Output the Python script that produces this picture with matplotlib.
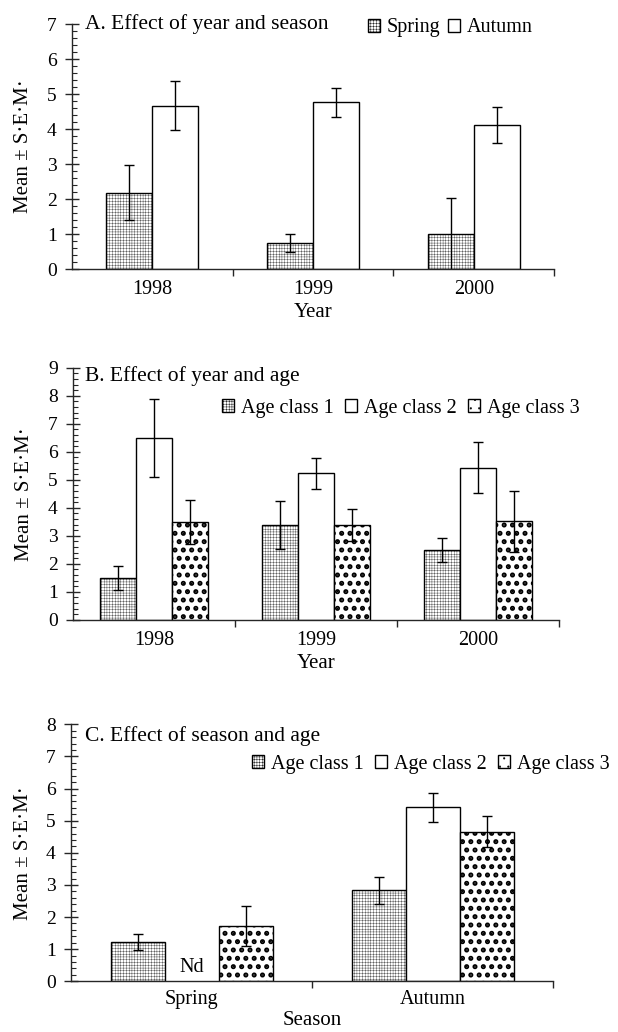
import numpy as np
import matplotlib
matplotlib.use('Agg')
import matplotlib.pyplot as plt
from matplotlib.ticker import MultipleLocator, FixedLocator, NullFormatter, FixedFormatter

plt.rcParams['font.family'] = ['Liberation Serif', 'DejaVu Serif']
plt.rcParams['hatch.linewidth'] = 0.3

# ---------------- data ----------------
years = ['1998', '1999', '2000']
seasons = ['Spring', 'Autumn']

a_spring = [2.18, 0.74, 1.00]
a_spring_err = [0.78, 0.26, 1.02]
a_autumn = [4.66, 4.76, 4.11]
a_autumn_err = [0.70, 0.41, 0.52]

b_age1 = [1.50, 3.38, 2.50]
b_age1_err = [0.43, 0.85, 0.43]
b_age2 = [6.48, 5.23, 5.43]
b_age2_err = [1.40, 0.55, 0.92]
b_age3 = [3.48, 3.38, 3.51]
b_age3_err = [0.78, 0.57, 1.08]

c_age1 = [1.23, 2.83]
c_age1_err = [0.25, 0.43]
c_age2 = [np.nan, 5.41]      # Spring: not determined (Nd)
c_age2_err = [np.nan, 0.46]
c_age3 = [1.72, 4.66]
c_age3_err = [0.63, 0.49]

ylabel = 'Mean ± S·E·M·'

TICK_FS = 14
LAB_FS = 15
TITLE_FS = 15.5
LEG_FS = 14.5

fig = plt.figure(figsize=(6.18, 10.32), dpi=100)

axA = fig.add_axes([0.1165, 0.7393, 0.7800, 0.2374])
axB = fig.add_axes([0.1180, 0.3995, 0.7865, 0.2442])
axC = fig.add_axes([0.1150, 0.0491, 0.7800, 0.2491])

styles = {
    'fine': dict(facecolor='white', edgecolor='black', hatch='++++++', linewidth=1.0),
    'open': dict(facecolor='white', edgecolor='black', linewidth=1.0),
    'dots': dict(facecolor='white', edgecolor='black', hatch='..', linewidth=1.0),
}
hatch_lw = {'fine': 0.22, 'dots': 2.4}
ekw = dict(ecolor='black', elinewidth=1.0, capsize=3.5, capthick=1.0)


def draw_bars(ax, series, errs, kinds, labels, width):
    n = len(series)
    x = np.arange(len(series[0]))
    handles = []
    for i, (vals, err, kind, lab) in enumerate(zip(series, errs, kinds, labels)):
        off = (i - (n - 1) / 2) * width
        bc = ax.bar(x + off, vals, width, yerr=err, error_kw=ekw, label=lab,
                    zorder=2, **styles[kind])
        if kind in hatch_lw:
            for p in bc.patches:
                if hasattr(p, 'set_hatch_linewidth'):
                    p.set_hatch_linewidth(hatch_lw[kind])
        handles.append(bc)
    return x, handles


def style_axis(ax, ncat, ymax, cats, xlabel, tickpad=8, labelpad=3):
    ax.set_xlim(-0.5, ncat - 0.5)
    ax.set_ylim(0, ymax)
    for s in ['top', 'right']:
        ax.spines[s].set_visible(False)
    for s in ['left', 'bottom']:
        ax.spines[s].set_color('0.15')
        ax.spines[s].set_linewidth(1.0)
    ax.xaxis.set_major_locator(FixedLocator(np.arange(ncat) + 0.5))
    ax.xaxis.set_major_formatter(NullFormatter())
    ax.xaxis.set_minor_locator(FixedLocator(np.arange(ncat)))
    ax.xaxis.set_minor_formatter(FixedFormatter(cats))
    ax.tick_params(axis='x', which='major', direction='out', length=5, width=1, color='0.15')
    ax.tick_params(axis='x', which='minor', length=0, pad=tickpad, labelsize=TICK_FS + 0.5)
    ax.yaxis.set_major_locator(MultipleLocator(1))
    ax.yaxis.set_minor_locator(MultipleLocator(0.2))
    ax.tick_params(axis='y', which='major', direction='inout', length=10, width=1,
                   color='0.15', labelsize=TICK_FS, pad=6)
    ax.tick_params(axis='y', which='minor', direction='in', length=3.8, width=0.8, color='0.15')
    ax.set_ylabel(ylabel, fontsize=LAB_FS)
    ax.yaxis.set_label_coords(-0.08, 0.5)
    ax.set_xlabel(xlabel, fontsize=LAB_FS, labelpad=labelpad)


leg_kw = dict(frameon=False, fontsize=LEG_FS, handlelength=0.6, handleheight=0.6,
              handletextpad=0.35, columnspacing=0.55, borderaxespad=0, borderpad=0)

# ---- Panel A ----
xA, hA = draw_bars(axA, [a_spring, a_autumn], [a_spring_err, a_autumn_err],
                   ['fine', 'open'], seasons, 0.286)
style_axis(axA, len(years), 7, years, 'Year')
axA.text(0.027, 1.0, 'A. Effect of year and season', transform=axA.transAxes,
         fontsize=TITLE_FS, va='center', ha='left')
axA.legend(handles=hA, ncol=2, loc='center left', bbox_to_anchor=(0.614, 0.985),
           **{**leg_kw, 'columnspacing': 0.35})

# ---- Panel B ----
ages = ['Age class 1', 'Age class 2', 'Age class 3']
xB, hB = draw_bars(axB, [b_age1, b_age2, b_age3], [b_age1_err, b_age2_err, b_age3_err],
                   ['fine', 'open', 'dots'], ages, 0.222)
style_axis(axB, len(years), 9, years, 'Year')
axB.text(0.025, 0.965, 'B. Effect of year and age', transform=axB.transAxes,
         fontsize=TITLE_FS, va='center', ha='left')
axB.legend(handles=hB, ncol=3, loc='center left', bbox_to_anchor=(0.306, 0.84), **leg_kw)

# ---- Panel C ----
xC, hC = draw_bars(axC, [c_age1, c_age2, c_age3], [c_age1_err, c_age2_err, c_age3_err],
                   ['fine', 'open', 'dots'], ages, 0.224)
style_axis(axC, len(seasons), 8, seasons, 'Season', tickpad=6, labelpad=2)
axC.text(0.028, 0.955, 'C. Effect of season and age', transform=axC.transAxes,
         fontsize=TITLE_FS, va='center', ha='left')
axC.legend(handles=hC, ncol=3, loc='center left', bbox_to_anchor=(0.375, 0.845), **leg_kw)
axC.text(xC[0], 0.15, 'Nd', ha='center', va='bottom', fontsize=TICK_FS + 0.5)

fig.savefig('out.png', dpi=100)
